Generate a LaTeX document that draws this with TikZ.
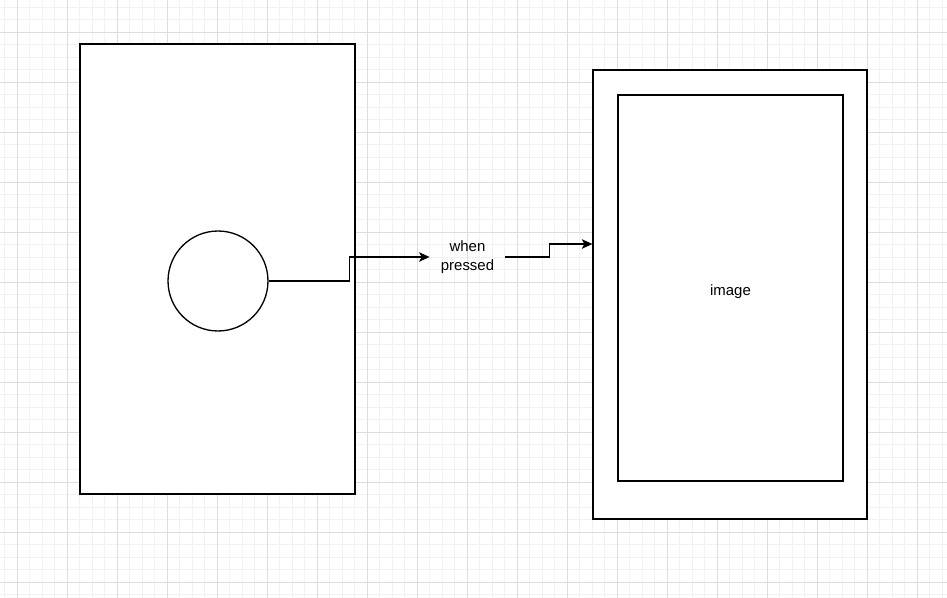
\documentclass[tikz,border=0pt]{standalone}
\usepackage{fontspec}
\setmainfont{Liberation Sans}
\usetikzlibrary{arrows.meta}
\definecolor{gridminor}{HTML}{F2F2F2}
\definecolor{gridmajor}{HTML}{DDDDDD}

\begin{document}
\begin{tikzpicture}[x=0.02cm, y=-0.02cm,
    font=\fontsize{8.5}{10.7}\selectfont,
    box/.style={draw=black, fill=white, line width=0.75pt, inner sep=0pt},
    link/.style={line width=0.75pt, -{Stealth[length=0.21cm, width=0.19cm, inset=0.05cm]}},
    minorline/.style={draw=gridminor, line width=0.55pt},
    majorline/.style={draw=gridmajor, line width=0.55pt}]
    \useasboundingbox (0,0) rectangle (947,598);
    \fill[white] (0,0) rectangle (947,598);

    % background grid
    \foreach \q in {4.5,17,...,947}{
        \draw[minorline](\q, 0) -- (\q, 598);
    }
    \foreach \q in {7,19.5,...,598}{
        \draw[minorline](0, \q) -- (947, \q);
    }
    \foreach \q in {17,67,...,947}{
        \draw[majorline](\q, 0) -- (\q, 598);
    }
    \foreach \q in {32,82,...,598}{
        \draw[majorline](0, \q) -- (947, \q);
    }

    % screen with button
    \node[box, minimum width=5.5cm, minimum height=9cm] (screen) at (217.5, 269) {};
    \node[box, circle, minimum size=2cm] (button) at (218, 281) {};

    \node[align=center, inner xsep=0.22cm, inner ysep=0.1cm] (pressed) at (467.5, 257) {when\\pressed};

    % image view
    \node[box, minimum width=5.48cm, minimum height=8.98cm] (frame) at (730, 294.5) {};
    \node[box, minimum width=4.5cm, minimum height=7.72cm, text height=8pt, text depth=0pt] (image) at (730.5, 288) {image};

    \draw[link](button.east) -- ++(81, 0) |- (pressed.west);
    \draw[link](pressed.east) -- ++(44, 0) |- ([yshift=1.01cm]frame.west);
\end{tikzpicture}
\end{document}
